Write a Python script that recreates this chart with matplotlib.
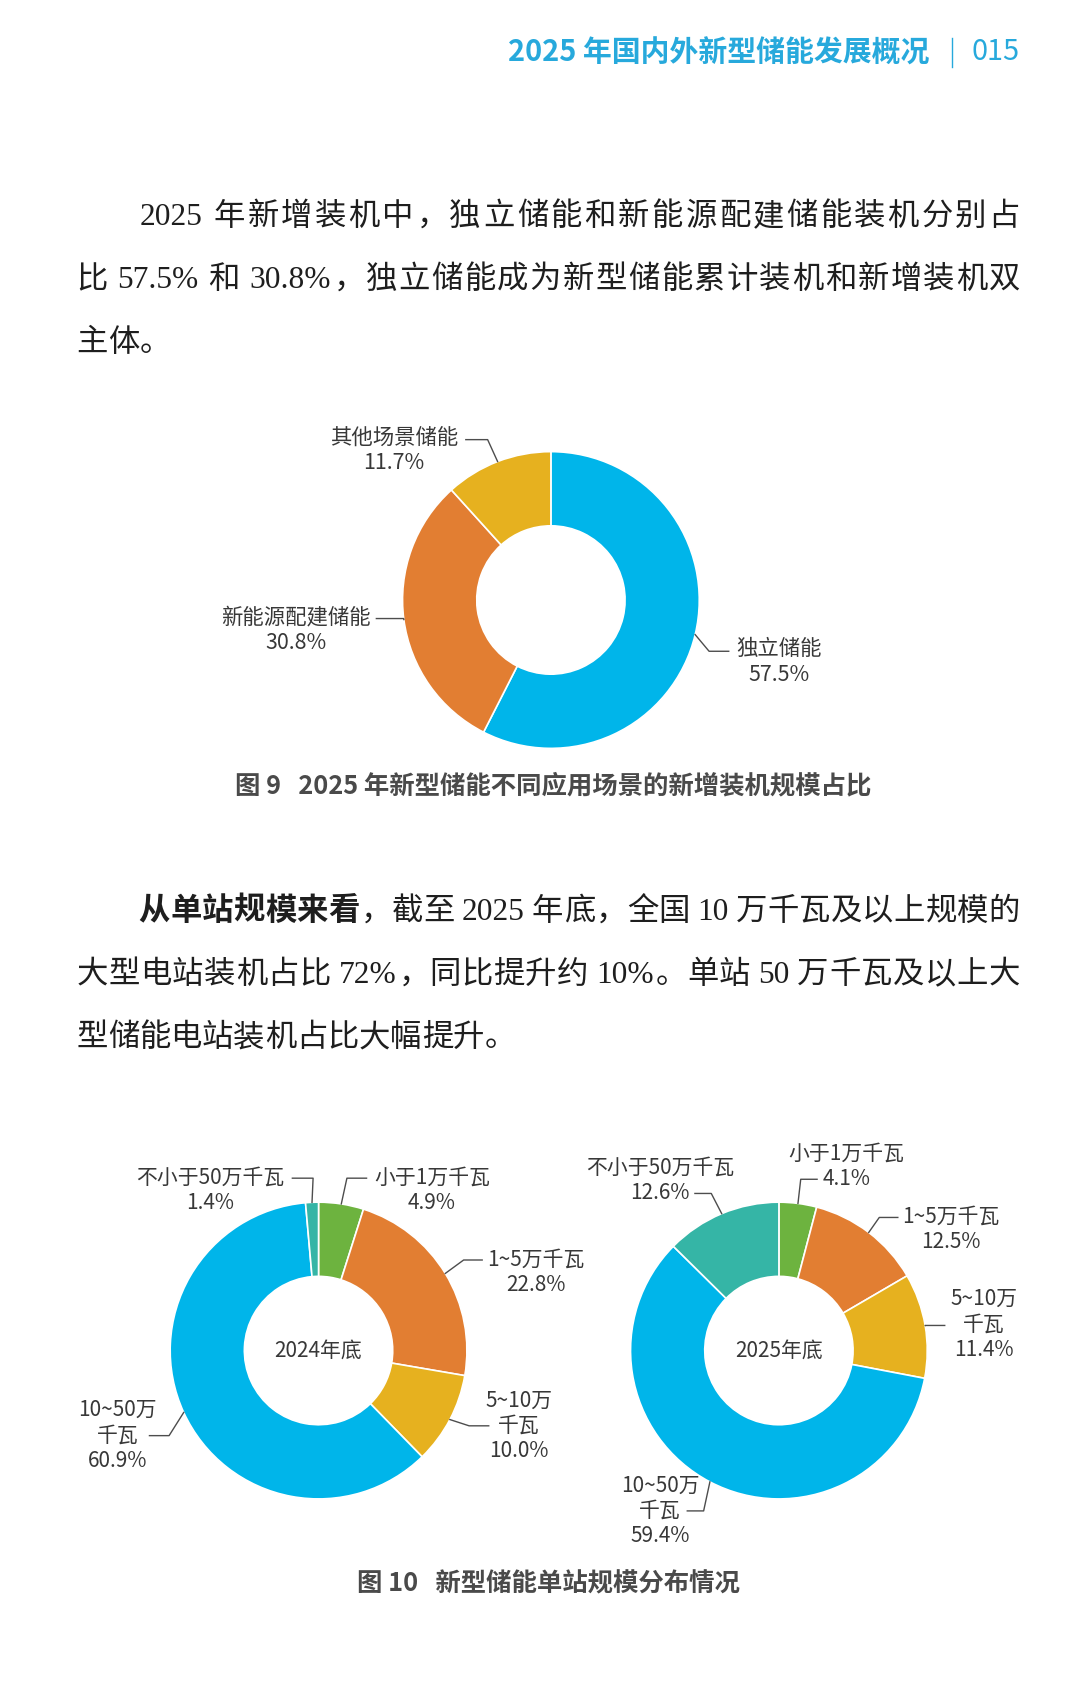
import numpy as np
import matplotlib
matplotlib.use('Agg')
import matplotlib.pyplot as plt

plt.rcParams['font.family'] = ['Noto Sans CJK SC', 'DejaVu Sans']

RW = 990
RH = RW * 1707 / 1080

# figure 9 data
fig9_labels = ['独立储能', '新能源配建储能', '其他场景储能']
fig9_values = [57.5, 30.8, 11.7]
fig9_colors = ['#00b5ea', '#e27e32', '#e6b11f']

# figure 10 data
size_labels = ['小于1万千瓦', '1~5万千瓦', '5~10万\n千瓦', '10~50万\n千瓦', '不小于50万千瓦']
share_2024 = [4.9, 22.8, 10.0, 60.9, 1.4]
share_2025 = [4.1, 12.5, 11.4, 59.4, 12.6]
size_colors = ['#6db33f', '#e27e32', '#e6b11f', '#00b5ea', '#35b5a6']

header = '2025 年国内外新型储能发展概况'
page_no = '015'
para1 = ['2025 年新增装机中，独立储能和新能源配建储能装机分别占',
         '比 57.5% 和 30.8%，独立储能成为新型储能累计装机和新增装机双',
         '主体。']
para2_bold = '从单站规模来看'
para2 = ['，截至 2025 年底，全国 10 万千瓦及以上规模的',
         '大型电站装机占比 72%，同比提升约 10%。单站 50 万千瓦及以上大',
         '型储能电站装机占比大幅提升。']
cap9 = '图 9   2025 年新型储能不同应用场景的新增装机规模占比'
cap10 = '图 10   新型储能单站规模分布情况'

BODY = ['Liberation Serif', 'Noto Sans CJK SC']
CYAN = '#27a9dc'
INK = '#1e1e1e'

fig = plt.figure(figsize=(10.8, 17.07), dpi=100)
bg = fig.add_axes([0, 0, 1, 1])
bg.set_xlim(0, RW)
bg.set_ylim(RH, 0)
bg.axis('off')
renderer = fig.canvas.get_renderer()

# header
bg.text(852, 48, header, ha='right', va='center', fontsize=20.8,
        fontweight='bold', color=CYAN)
bg.plot([873, 873], [35, 61], color=CYAN, lw=1)
bg.text(935, 48, page_no, ha='right', va='center', fontsize=20.8, color=CYAN)

# body text, justified between x0 and x1
bsize = 22.6
em = bsize / 72 * 100 * RW / 1080


def body_line(x0, x1, base, parts, justify=True):
    toks = []
    for txt, wt in parts:
        for ch in txt:
            if ch.isascii() and ch != ' ':
                if toks and toks[-1][3] == 'latin':
                    toks[-1][0] += ch
                    continue
                toks.append([ch, wt, 0, 'latin'])
            elif ch == ' ':
                toks.append([ch, wt, 0.2 * em, 'space'])
            elif ch in '，。':
                toks.append([ch, wt, em, 'punct'])
            else:
                toks.append([ch, wt, em, 'cjk'])
    for tk in toks:
        if tk[3] == 'latin':
            tmp = bg.text(0, 0, tk[0], fontsize=bsize, family=BODY, fontweight=tk[1])
            tk[2] = tmp.get_window_extent(renderer).width * RW / 1080 + 0.04 * em
            tmp.remove()
    gap = (x1 - x0 - sum(t[2] for t in toks)) / (len(toks) - 1) if justify else 0
    gap = max(gap, 0)
    x = x0
    for s, wt, w, kind in toks:
        if kind == 'cjk':
            bg.text(x + w / 2, base, s, ha='center', va='baseline', fontsize=bsize,
                    family=BODY, fontweight=wt, color=INK)
        elif kind == 'punct':
            bg.text(x + 0.02 * em, base, s, ha='left', va='baseline', fontsize=bsize,
                    family=BODY, fontweight=wt, color=INK)
        elif kind == 'latin':
            bg.text(x + 0.02 * em, base, s, ha='left', va='baseline', fontsize=bsize,
                    family=BODY, fontweight=wt, color=INK)
        x += w + gap


body_line(127, 935, 206, [(para1[0], 'normal')])
body_line(70, 935, 264, [(para1[1], 'normal')])
body_line(70, 935, 322, [(para1[2], 'normal')], justify=False)
body_line(127, 935, 843, [(para2_bold, 'bold'), (para2[0], 'normal')])
body_line(70, 935, 901, [(para2[1], 'normal')])
body_line(70, 935, 959, [(para2[2], 'normal')], justify=False)


def donut(cx, cy, values, colors, labels, layout, center_text=None, R=136, fs=15):
    hw, hh = 2.6, 1.4
    ax = fig.add_axes([(cx - hw * R) / RW, 1 - (cy + hh * R) / RH,
                       2 * hw * R / RW, 2 * hh * R / RH])
    wedges, _ = ax.pie(values, colors=colors, startangle=90, counterclock=False,
                       wedgeprops=dict(width=0.5, edgecolor='white', linewidth=1.2))
    ax.set_xlim(-hw, hw)
    ax.set_ylim(-hh, hh)
    ax.set_aspect('equal')
    ax.axis('off')
    ax.patch.set_visible(False)

    def to(X, Y):
        return (X - cx) / R, (cy - Y) / R

    for w, lab, val, (tx, ty, ex, ey, endx) in zip(wedges, labels, values, layout):
        a = np.deg2rad((w.theta1 + w.theta2) / 2)
        bx, by = to(ex, ey)
        fx, _ = to(endx, ey)
        ax.plot([np.cos(a), bx, fx], [np.sin(a), by, by], color='#4d4d4d',
                lw=1, clip_on=False)
        px, py = to(tx, ty)
        ax.text(px, py, f'{lab}\n{val:.1f}%', ha='center', va='center',
                fontsize=fs, color='#383838', linespacing=1.2)
    if center_text:
        ax.text(0, 0, center_text, ha='center', va='center', fontsize=fs,
                color='#383838')
    return ax


# label layout: text centre x, y, elbow x, y, line end x (page units)
layout9 = [(714, 607, 650, 597, 668),
           (271, 578, 370, 567, 345),
           (361, 413, 447, 403, 427)]
donut(505, 550, fig9_values, fig9_colors, fig9_labels, layout9, fs=15.4)
bg.text(507, 720, cap9, ha='center', va='center', fontsize=18.3,
        fontweight='bold', color='#4a4a4a')

layout24 = [(396, 1091, 318, 1080, 336),
            (491, 1166, 425, 1155, 442),
            (476, 1307, 430, 1307, 448),
            (108, 1316, 155, 1316, 137),
            (193, 1091, 287, 1080, 268)]
donut(292, 1238, share_2024, size_colors, size_labels, layout24, '2024年底')

layout25 = [(776, 1069, 734, 1081, 749),
            (872, 1127, 806, 1116, 823),
            (902, 1214, 848, 1215, 866),
            (605, 1385, 645, 1385, 630),
            (605, 1082, 652, 1094, 637)]
donut(714, 1238, share_2025, size_colors, size_labels, layout25, '2025年底')

bg.text(503, 1452, cap10, ha='center', va='center', fontsize=18.3,
        fontweight='bold', color='#4a4a4a')

fig.savefig('out.png', dpi=100, facecolor='white')
